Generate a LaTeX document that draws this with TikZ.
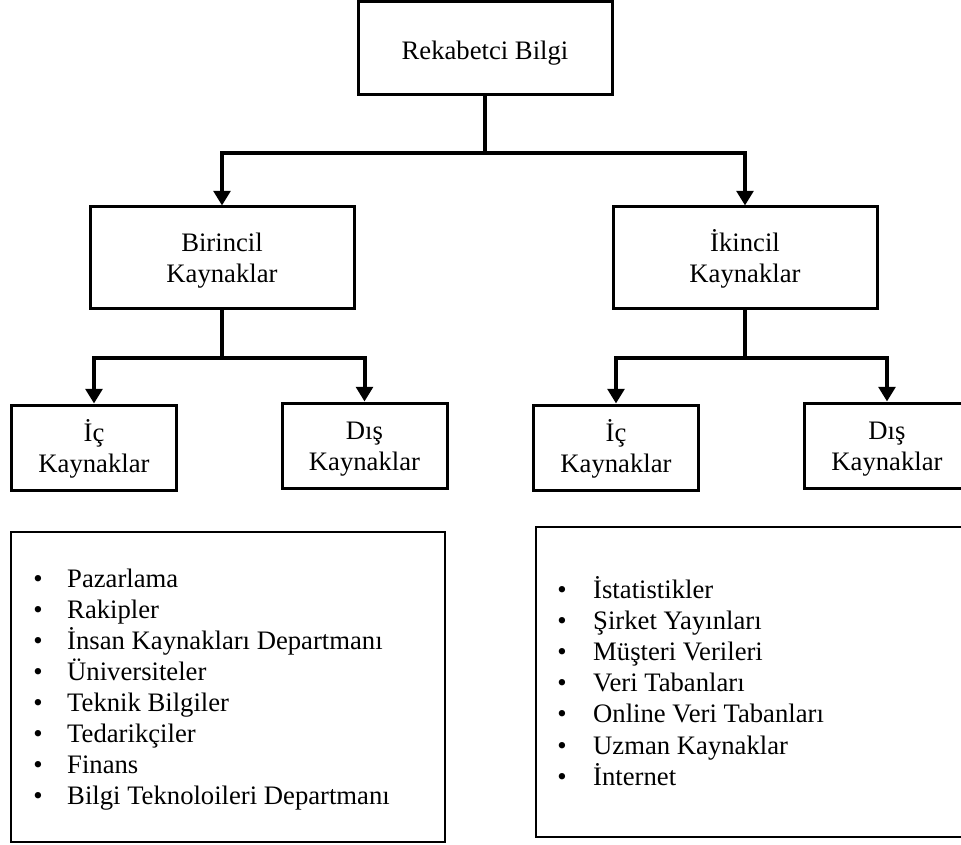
\documentclass[tikz,border=0pt]{standalone}
\usepackage{fontspec}
\setmainfont{Liberation Serif}
\usetikzlibrary{arrows.meta}
% strut that fixes the height of the first line in two-line boxes
\newcommand{\firstline}{\rule{0pt}{19pt}}
\begin{document}
\begin{tikzpicture}[x=0.75pt,y=-0.75pt,
  every node/.style={font=\fontsize{20}{23.25}\selectfont},
  box/.style={draw, line width=2.25pt, inner sep=0pt, align=center},
  onebox/.style={box, text height=17.25pt, text depth=0pt},
  listbox/.style={draw, line width=1.75pt, inner sep=0pt},
  item/.style={anchor=base west, inner sep=0pt},
  conn/.style={line width=3pt},
  arr/.style={conn, -{Triangle[length=11pt,width=12.5pt]}}]
\clip (0,0) rectangle (961,845);
\fill[white] (0,0) rectangle (961,845);

% hierarchy boxes
\node[onebox, minimum width=190.5pt, minimum height=69.75pt] (top) at (485,48.5) {Rekabetci Bilgi};
\node[box, minimum width=198pt, minimum height=75.75pt] (bir) at (222,257.5) {\firstline Birincil\\Kaynaklar};
\node[box, minimum width=198pt, minimum height=75.75pt] (iki) at (745,257.5) {\firstline İkincil\\Kaynaklar};
\node[box, minimum width=123.75pt, minimum height=63.75pt] (ic1) at (94,447.5) {\firstline İç\\Kaynaklar};
\node[box, minimum width=123.75pt, minimum height=63.75pt] (dis1) at (364.5,445.5) {\firstline Dış\\Kaynaklar};
\node[box, minimum width=123.75pt, minimum height=63.75pt] (ic2) at (616,447.5) {\firstline İç\\Kaynaklar};
\node[box, minimum width=123.75pt, minimum height=63.75pt] (dis2) at (887,445.5) {\firstline Dış\\Kaynaklar};

% connectors
\coordinate (hubA) at (485,153);
\coordinate (hubB) at (222,358);
\coordinate (hubC) at (745,358);
\draw[conn] (top.south) -- (hubA);
\draw[arr] (hubA) -| (bir.north);
\draw[arr] (hubA) -| (iki.north);
\draw[conn] (bir.south) -- (hubB);
\draw[arr] (hubB) -| (ic1.north);
\draw[arr] (hubB) -| (dis1.north);
\draw[conn] (iki.south) -- (hubC);
\draw[arr] (hubC) -| (ic2.north);
\draw[arr] (hubC) -| (dis2.north);

% source lists
\node[listbox, minimum width=325.5pt, minimum height=232.5pt] (listA) at (228,687) {};
\node[listbox, minimum width=328.5pt, minimum height=232.5pt] (listB) at (755,682) {};

\foreach \t [count=\i] in {Pazarlama, Rakipler, İnsan Kaynakları Departmanı,
  Üniversiteler, Teknik Bilgiler, Tedarikçiler, Finans, Bilgi Teknoloileri Departmanı}
  \node[item, name=a\i] at (33,{587+31*(\i-1)}) {\makebox[25.5pt][l]{\textbullet}\t};

\foreach \t [count=\i] in {İstatistikler, Şirket Yayınları, Müşteri Verileri,
  Veri Tabanları, Online Veri Tabanları, Uzman Kaynaklar, İnternet}
  \node[item, name=b\i] at (557,{598+31.2*(\i-1)}) {\makebox[27pt][l]{\textbullet}\t};
\end{tikzpicture}
\end{document}
